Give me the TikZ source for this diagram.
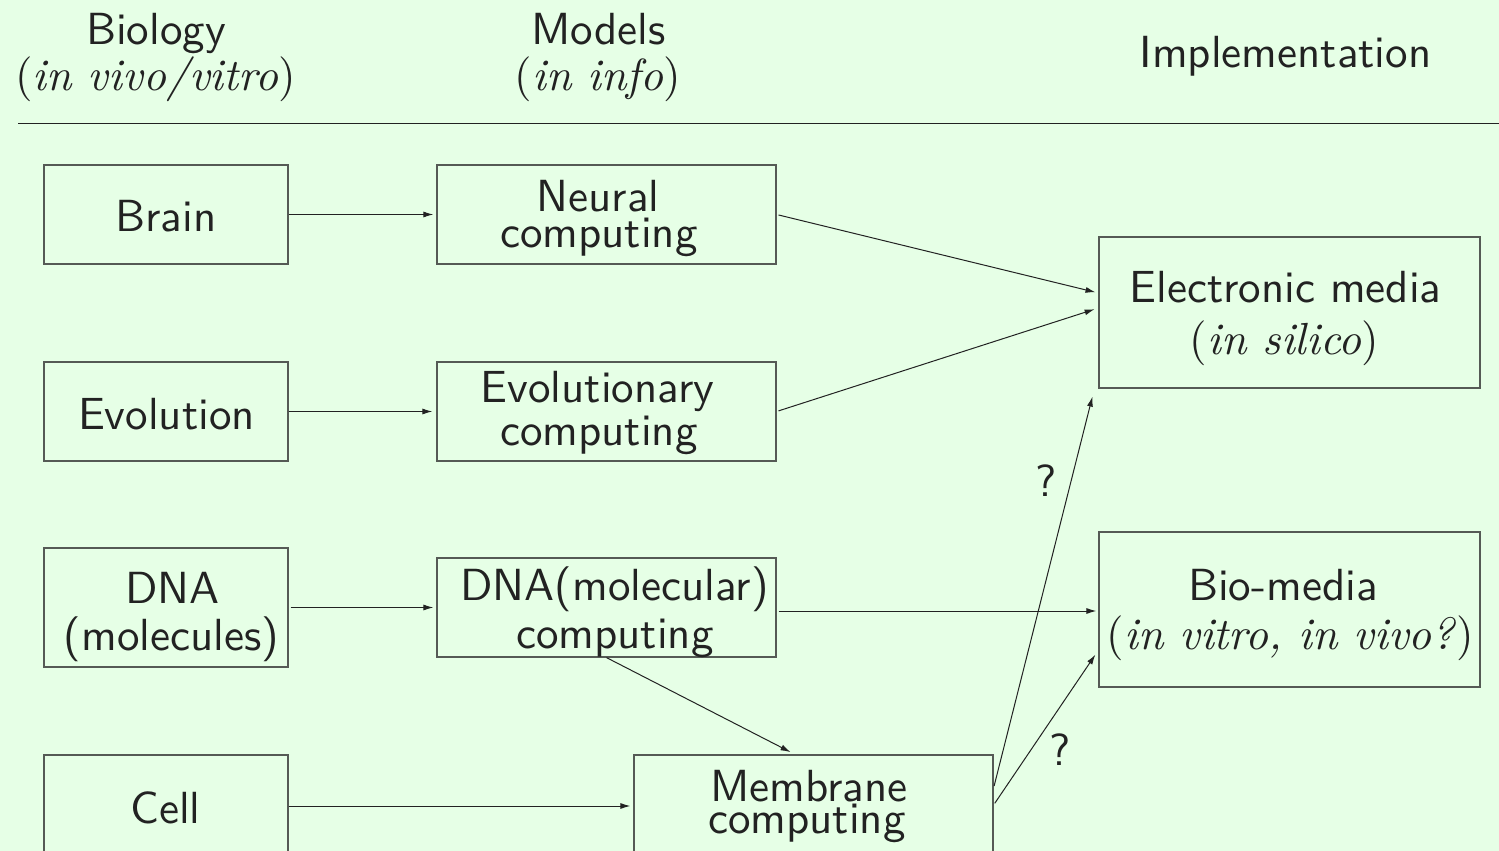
\documentclass[tikz,border=0pt]{standalone}
\usepackage{fontspec}
\setmainfont{lmroman10-regular.otf}[ItalicFont=lmroman10-italic.otf]
\setsansfont{lmsans10-regular.otf}
\usetikzlibrary{arrows.meta}
\definecolor{bg}{RGB}{230,255,230}
\definecolor{boxline}{RGB}{85,90,85}
\definecolor{ink}{RGB}{34,34,34}
\newcommand{\itx}[1]{\textrm{(\textit{#1})}}
\tikzset{
  bigfont/.style={font=\fontsize{45}{45}\selectfont\sffamily, text=ink},
  bbox/.style={draw=boxline, line width=1.2pt, inner sep=0pt},
  txt/.style={anchor=base, inner sep=0pt, bigfont},
  conn/.style={draw=ink, line width=1pt, -{Latex[length=10pt,width=6pt]}},
}
\begin{document}
\begin{tikzpicture}[x=1pt,y=-1pt]
\fill[bg] (0,0) rectangle (1499,851);
\useasboundingbox (0,0) rectangle (1499,851);
\clip (0,0) rectangle (1499,851);
% headers
\node[txt] (hbio) at (156,45) {Biology};
\node[txt] (hbio2) at (155.5,91) {\itx{in vivo/vitro}};
\node[txt] (hmod) at (598.5,45) {Models};
\node[txt] (hmod2) at (598,91) {\itx{in info}};
\node[txt] (himp) at (1285.5,67) {Implementation};
\draw[draw=ink, line width=1pt] (18,123) -- (1499,123);
% boxes
\node[bbox, minimum width=244pt, minimum height=99pt] (brain) at (166,214.5) {};
\node[bbox, minimum width=339pt, minimum height=99pt] (neural) at (606.5,214.5) {};
\node[bbox, minimum width=244pt, minimum height=99pt] (evol) at (166,411.5) {};
\node[bbox, minimum width=339pt, minimum height=99pt] (evoc) at (606.5,411.5) {};
\node[bbox, minimum width=244pt, minimum height=119pt] (dna) at (166,607.5) {};
\node[bbox, minimum width=339pt, minimum height=99pt] (dnac) at (606.5,607.5) {};
\node[bbox, minimum width=244pt, minimum height=102pt] (cell) at (166,806) {};
\node[bbox, minimum width=359pt, minimum height=102pt] (memb) at (813.5,806) {};
\node[bbox, minimum width=381pt, minimum height=151pt] (elec) at (1289.5,312.5) {};
\node[bbox, minimum width=381pt, minimum height=155pt] (bio) at (1289.5,609.5) {};
% box texts
\node[txt] (tbrain) at (166,231) {Brain};
\node[txt] (tneural1) at (598,211) {Neural};
\node[txt] (tneural2) at (599,247) {computing};
\node[txt] (tevol) at (166.5,429) {Evolution};
\node[txt] (tevoc1) at (597.5,402) {Evolutionary};
\node[txt] (tevoc2) at (599,445) {computing};
\node[txt] (tdna1) at (172.5,603) {DNA};
\node[txt] (tdna2) at (171.5,650) {(molecules)};
\node[txt] (tdnac1) at (614.5,600) {DNA(molecular)};
\node[txt] (tdnac2) at (615,648) {computing};
\node[txt] (tcell) at (165.5,823) {Cell};
\node[txt] (tmemb1) at (809,801) {Membrane};
\node[txt] (tmemb2) at (807,833) {computing};
\node[txt] (telec1) at (1285.5,302) {Electronic media};
\node[txt] (telec2) at (1284.5,354) {\itx{in silico}};
\node[txt] (tbio1) at (1283,600) {Bio-media};
\node[txt] (tbio2) at (1290.5,649) {\itx{in vitro, in vivo?}};
% connectors
\draw[conn, shorten >=3pt] (brain.east) -- (neural.west);
\draw[conn, shorten >=4pt] (evol.east) -- (evoc.west);
\draw[conn, shorten >=3pt, shorten <=2pt] (dna.east) -- (dnac.west);
\draw[conn, shorten >=3pt] (cell.east) -- (memb.west);
\draw[conn, shorten >=3pt, shorten <=2pt] (neural.east) -- ([yshift=19.5pt]elec.west);
\draw[conn, shorten >=4pt, shorten <=2pt] (evoc.east) -- ([yshift=4.5pt]elec.west);
\draw[conn, shorten >=2pt, shorten <=2pt] ([yshift=-3.5pt]dnac.east) -- ([yshift=-3.5pt]dnac.east -| bio.west);
\draw[conn, shorten >=5pt] (dnac.south) -- ([xshift=-18.5pt]memb.north);
\draw[conn, shorten <=2pt] ([yshift=18pt]memb.east) -- ([xshift=-6pt,yshift=-8pt]elec.south west);
\node[txt] (q1) at (1046,496) {?};
\draw[conn, shorten <=2pt] ([yshift=1pt]memb.east) -- ([xshift=-3pt,yshift=33pt]bio.south west);
\node[txt] (q2) at (1060,765) {?};
\end{tikzpicture}
\end{document}
